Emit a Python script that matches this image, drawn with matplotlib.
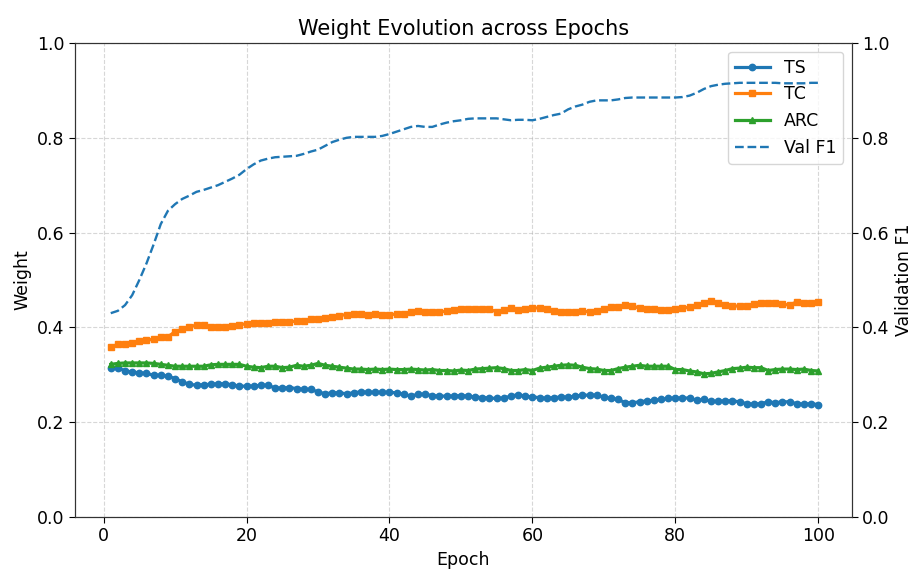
import matplotlib
matplotlib.use("Agg")
import matplotlib.pyplot as plt
import numpy as np

epochs = list(range(1, 101))

ts = [0.315, 0.315, 0.308, 0.306, 0.304, 0.303, 0.299, 0.299, 0.297, 0.292,
      0.285, 0.280, 0.278, 0.279, 0.280, 0.281, 0.281, 0.279, 0.276, 0.276,
      0.276, 0.278, 0.278, 0.272, 0.272, 0.273, 0.271, 0.269, 0.269, 0.264,
      0.260, 0.262, 0.262, 0.260, 0.262, 0.264, 0.263, 0.263, 0.263, 0.263,
      0.262, 0.259, 0.255, 0.259, 0.259, 0.256, 0.255, 0.255, 0.255, 0.256,
      0.255, 0.253, 0.252, 0.251, 0.250, 0.251, 0.255, 0.258, 0.255, 0.253,
      0.252, 0.250, 0.252, 0.253, 0.253, 0.255, 0.257, 0.257, 0.257, 0.253,
      0.250, 0.248, 0.241, 0.241, 0.243, 0.245, 0.246, 0.248, 0.250, 0.251,
      0.251, 0.251, 0.246, 0.248, 0.244, 0.244, 0.245, 0.245, 0.243, 0.239,
      0.238, 0.239, 0.243, 0.241, 0.243, 0.243, 0.239, 0.238, 0.239, 0.237]

tc = [0.359, 0.364, 0.366, 0.368, 0.371, 0.373, 0.375, 0.379, 0.380, 0.391,
      0.396, 0.401, 0.405, 0.405, 0.400, 0.400, 0.401, 0.403, 0.405, 0.408,
      0.410, 0.410, 0.410, 0.411, 0.412, 0.412, 0.413, 0.414, 0.417, 0.418,
      0.420, 0.421, 0.425, 0.427, 0.429, 0.429, 0.427, 0.429, 0.427, 0.427,
      0.428, 0.429, 0.432, 0.435, 0.432, 0.432, 0.433, 0.434, 0.436, 0.438,
      0.439, 0.438, 0.438, 0.438, 0.433, 0.436, 0.440, 0.436, 0.438, 0.441,
      0.441, 0.438, 0.434, 0.433, 0.432, 0.432, 0.434, 0.433, 0.435, 0.439,
      0.443, 0.442, 0.447, 0.446, 0.440, 0.439, 0.439, 0.436, 0.436, 0.439,
      0.440, 0.443, 0.448, 0.451, 0.456, 0.452, 0.448, 0.445, 0.445, 0.446,
      0.449, 0.451, 0.452, 0.451, 0.449, 0.447, 0.454, 0.452, 0.452, 0.454]

arc = [0.322, 0.324, 0.325, 0.325, 0.325, 0.325, 0.324, 0.322, 0.320, 0.318,
       0.318, 0.318, 0.318, 0.318, 0.321, 0.322, 0.322, 0.322, 0.322, 0.318,
       0.316, 0.315, 0.318, 0.318, 0.315, 0.316, 0.320, 0.318, 0.320, 0.324,
       0.320, 0.318, 0.316, 0.314, 0.312, 0.312, 0.311, 0.312, 0.311, 0.312,
       0.311, 0.311, 0.312, 0.311, 0.310, 0.311, 0.309, 0.309, 0.308, 0.310,
       0.309, 0.312, 0.313, 0.314, 0.315, 0.313, 0.309, 0.309, 0.311, 0.309,
       0.314, 0.316, 0.318, 0.320, 0.321, 0.320, 0.316, 0.313, 0.312, 0.309,
       0.309, 0.313, 0.316, 0.318, 0.320, 0.318, 0.318, 0.318, 0.318, 0.311,
       0.311, 0.308, 0.306, 0.302, 0.303, 0.306, 0.309, 0.313, 0.314, 0.316,
       0.315, 0.315, 0.309, 0.311, 0.312, 0.312, 0.311, 0.312, 0.309, 0.308]

val_f1 = [0.430, 0.435, 0.447, 0.468, 0.500, 0.535, 0.575, 0.618, 0.646, 0.660,
          0.671, 0.678, 0.686, 0.690, 0.695, 0.700, 0.707, 0.714, 0.722, 0.734,
          0.744, 0.752, 0.756, 0.759, 0.760, 0.761, 0.762, 0.766, 0.771, 0.775,
          0.783, 0.791, 0.796, 0.800, 0.802, 0.802, 0.802, 0.802, 0.804, 0.808,
          0.813, 0.818, 0.823, 0.825, 0.823, 0.823, 0.828, 0.832, 0.835, 0.837,
          0.840, 0.841, 0.841, 0.841, 0.841, 0.839, 0.837, 0.838, 0.838, 0.837,
          0.840, 0.844, 0.848, 0.851, 0.860, 0.866, 0.870, 0.876, 0.879, 0.879,
          0.879, 0.881, 0.884, 0.885, 0.885, 0.885, 0.885, 0.885, 0.885, 0.885,
          0.886, 0.889, 0.895, 0.903, 0.909, 0.912, 0.914, 0.915, 0.916, 0.916,
          0.916, 0.916, 0.916, 0.916, 0.915, 0.915, 0.915, 0.915, 0.916, 0.916]

fs = 12.5
fig = plt.figure(figsize=(9.16, 5.72), dpi=100)
ax = fig.add_axes([0.0819, 0.0962, 0.848, 0.8286])

l1, = ax.plot(epochs, ts, color="#1f77b4", marker="o", markersize=4.6, linewidth=2.3, label="TS")
l2, = ax.plot(epochs, tc, color="#ff7f0e", marker="s", markersize=4.6, linewidth=2.3, label="TC")
l3, = ax.plot(epochs, arc, color="#2ca02c", marker="^", markersize=4.6, linewidth=2.3, label="ARC")
ax.set_ylim(0, 1.0)
ax.set_xlim(-4.0, 104.7)
ax.set_xlabel("Epoch", fontsize=fs)
ax.set_ylabel("Weight", fontsize=fs)
ax.set_title("Weight Evolution across Epochs", fontsize=15)
ax.grid(True, linestyle="--", alpha=0.5)
ax.tick_params(labelsize=fs, length=4)
for s in ax.spines.values():
    s.set_color("#333333")

ax2 = ax.twinx()
l4, = ax2.plot(epochs, val_f1, color="#1f77b4", linestyle="--", linewidth=1.7, label="Val F1")
ax2.set_ylim(0, 1.0)
ax2.set_ylabel("Validation F1", fontsize=fs)
ax2.tick_params(labelsize=fs, length=4)
for s in ax2.spines.values():
    s.set_color("#333333")

ax.legend(handles=[l1, l2, l3, l4], loc="upper right", fontsize=fs)

fig.savefig("out.png", dpi=100)
